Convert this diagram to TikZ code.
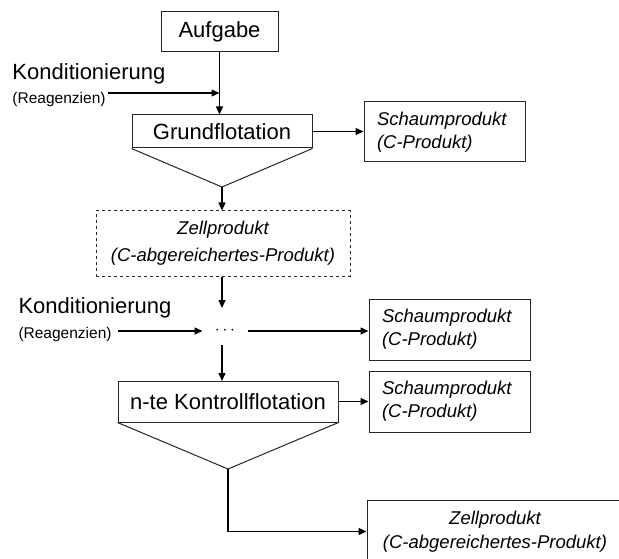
\documentclass[tikz,border=0pt]{standalone}
\usepackage{fontspec}
\setmainfont{Liberation Sans}
\usetikzlibrary{arrows.meta}
\begin{document}
\begin{tikzpicture}[x=1pt,y=-1pt,
  line width=1pt,
  arr/.style={line width=1.3pt, -{Triangle[length=8pt,width=7pt]}},
  bigbox/.style={draw=black!85, rectangle, inner sep=0pt, font=\fontsize{22}{26}\selectfont},
  lbl/.style={inner sep=0pt, anchor=base west},
  biglbl/.style={lbl, font=\fontsize{22}{26}\selectfont},
  smalllbl/.style={lbl, font=\fontsize{15.5}{18}\selectfont},
  prodbox/.style={draw=black!85, rectangle, inner sep=0pt, inner xsep=13pt, align=left,
    text width=135pt, minimum height=61pt, font=\fontsize{18.5}{23}\selectfont\itshape},
  zellbox/.style={draw=black!85, rectangle, inner sep=0pt, align=center,
    font=\fontsize{18.5}{27}\selectfont\itshape}
]
\useasboundingbox (0,0) rectangle (619,559);
\clip (0,0) rectangle (619,559);

% top part
\node[bigbox, minimum width=117pt, minimum height=40pt] (aufgabe) at (219.5,32) {Aufgabe};
\node[bigbox, minimum width=180pt, minimum height=33pt] (grund) at (222,131.5) {Grundflotation};
\coordinate (apex1) at (222,187);
\draw[black!85] (grund.south west) -- (apex1) -- (grund.south east);

\node[biglbl] (k1) at (12,80) {Konditionierung};
\node[smalllbl] (r1) at (12,104) {(Reagenzien)};
\coordinate (r1o) at (108,93);
\coordinate (j1) at (aufgabe.south |- r1o);
\draw[arr] (aufgabe.south) -- (aufgabe.south |- grund.north);
\draw[arr] (r1o) -- (j1);

\node[prodbox, minimum height=60pt] (schaum1) at (444.5,132) {Schaumprodukt\\(C-Produkt)};
\draw[arr] (grund.east) -- (grund.east -| schaum1.west);

\node[zellbox, dashed, minimum width=254pt, minimum height=65pt] (zell1) at (223,243.5)
  {Zellprodukt\\(C-abgereichertes-Produkt)};
\draw[arr] (apex1) -- (apex1 |- zell1.north);

% middle part
\node[inner sep=0pt, minimum width=44pt, minimum height=28pt, font=\fontsize{18}{20}\selectfont] (dots) at (225,331) {$\cdots$};
\draw[arr, shorten >=9pt] (zell1.south -| 222,0) -- (222,317);
\node[biglbl] (k2) at (18,313) {Konditionierung};
\node[smalllbl] (r2) at (18,338) {(Reagenzien)};
\coordinate (r2o) at (118,331);
\draw[arr] (r2o) -- (dots.west);

\node[prodbox] (schaum2) at (449.5,329.5) {Schaumprodukt\\(C-Produkt)};
\draw[arr] (dots.east) -- (dots.east -| schaum2.west);

\node[bigbox, minimum width=220pt, minimum height=41pt] (kontroll) at (228,401.5) {n-te Kontrollflotation};
\draw[arr] (222,345) -- (222,381);

\node[prodbox] (schaum3) at (449.5,401.5) {Schaumprodukt\\(C-Produkt)};
\draw[arr] (kontroll.east) -- (kontroll.east -| schaum3.west);

% bottom part
\coordinate (apex2) at (228,469);
\draw[black!85] (kontroll.south west) -- (apex2) -- (kontroll.south east);
\node[zellbox, minimum width=256pt, minimum height=63pt, font=\fontsize{18.5}{24}\selectfont\itshape] (zell2) at (495,531.5)
  {Zellprodukt\\(C-abgereichertes-Produkt)};
\draw[arr] (apex2) |- (zell2.west);
\end{tikzpicture}
\end{document}
